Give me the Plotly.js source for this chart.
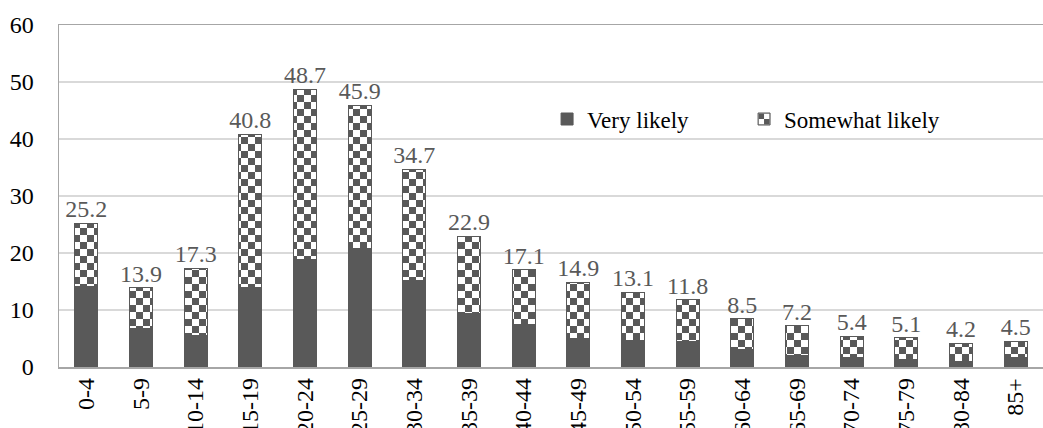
<!DOCTYPE html>
<html>
<head>
<meta charset="utf-8">
<script src="https://cdn.plot.ly/plotly-3.0.1.min.js"></script>
<style>
  html, body { margin: 0; padding: 0; background: #fff; }
  #chart { width: 1043px; height: 428px; }
</style>
</head>
<body>
<div id="chart"></div>
<script>
// Age groups on the x axis
const ageGroups = ['0-4', '5-9', '10-14', '15-19', '20-24', '25-29', '30-34', '35-39', '40-44',
                   '45-49', '50-54', '55-59', '60-64', '65-69', '70-74', '75-79', '80-84', '85+'];

// Share answering "Very likely" (lower, solid segment)
const veryLikely = [14.1, 6.7, 5.5, 14.0, 18.9, 20.8, 15.1, 9.4, 7.4,
                    5.0, 4.6, 4.4, 3.1, 2.1, 1.6, 1.3, 1.0, 1.6];

// Share answering "Somewhat likely" (upper, checkered segment)
const somewhatLikely = [11.1, 7.2, 11.8, 26.8, 29.8, 25.1, 19.6, 13.5, 9.7,
                        9.9, 8.5, 7.4, 5.4, 5.1, 3.8, 3.8, 3.2, 2.9];

// Combined total printed above each stack
const totals = [25.2, 13.9, 17.3, 40.8, 48.7, 45.9, 34.7, 22.9, 17.1,
                14.9, 13.1, 11.8, 8.5, 7.2, 5.4, 5.1, 4.2, 4.5];

const yTicks = [0, 10, 20, 30, 40, 50, 60];

const DARK = '#595959';
const FONT = 'Liberation Serif';

const traces = [
  {
    type: 'bar', name: 'Very likely', x: ageGroups, y: veryLikely,
    marker: { color: DARK, line: { color: DARK, width: 1 } },
    width: 0.42, hoverinfo: 'x+y'
  },
  {
    type: 'bar', name: 'Somewhat likely', x: ageGroups, y: somewhatLikely,
    marker: {
      color: '#ffffff',
      line: { color: DARK, width: 1 },
      pattern: { shape: '+', fgcolor: DARK, bgcolor: '#ffffff', size: 14, solidity: 0.5 }
    },
    width: 0.42, hoverinfo: 'x+y'
  },
  {
    type: 'scatter', mode: 'text', x: ageGroups, y: totals,
    text: totals.map(v => v.toFixed(1)),
    textposition: 'top center',
    textfont: { family: FONT, size: 24, color: DARK },
    showlegend: false, hoverinfo: 'skip', cliponaxis: false
  }
];

const layout = {
  width: 1043, height: 428,
  margin: { l: 59, r: 0, t: 25, b: 61, autoexpand: false },
  paper_bgcolor: '#ffffff', plot_bgcolor: '#ffffff',
  font: { family: FONT, size: 24, color: '#000' },
  barmode: 'stack',
  showlegend: true,
  legend: {
    orientation: 'h', x: 0.496, xanchor: 'left', y: 0.725, yanchor: 'middle',
    font: { family: FONT, size: 23, color: '#000' },
    bgcolor: 'rgba(0,0,0,0)', entrywidth: 152, traceorder: 'normal'
  },
  xaxis: {
    type: 'category', range: [-0.5, 17.5], fixedrange: true,
    tickangle: -90, automargin: false,
    showline: true, linecolor: '#a6a6a6', linewidth: 1.5, mirror: true,
    showgrid: false, ticks: '',
    tickfont: { family: FONT, size: 24, color: '#000' }
  },
  yaxis: {
    range: [0, 60], tickvals: yTicks, fixedrange: true, automargin: false,
    showline: true, linecolor: '#a6a6a6', linewidth: 1.5,
    gridcolor: '#d9d9d9', gridwidth: 1.5, zeroline: false, ticks: '',
    ticklabelstandoff: 19,
    tickfont: { family: FONT, size: 24, color: '#000' }
  }
};

// Replace the built-in "+" pattern tiles with a checkerboard
function checkerTiles(gd) {
  const NS = 'http://www.w3.org/2000/svg';
  const s = 14, h = 7;
  gd.querySelectorAll('pattern').forEach(p => {
    p.setAttribute('width', s);
    p.setAttribute('height', s);
    p.setAttribute('patternUnits', 'userSpaceOnUse');
    while (p.firstChild) p.removeChild(p.firstChild);
    const add = (x, y, w, hh, c) => {
      const r = document.createElementNS(NS, 'rect');
      r.setAttribute('x', x); r.setAttribute('y', y);
      r.setAttribute('width', w); r.setAttribute('height', hh);
      r.setAttribute('fill', c);
      p.appendChild(r);
    };
    add(0, 0, s, s, '#ffffff');
    add(0, 0, h, h, DARK);
    add(h, h, h, h, DARK);
  });
}

const gd = document.getElementById('chart');
Plotly.newPlot(gd, traces, layout, { staticPlot: true }).then(() => {
  checkerTiles(gd);
  gd.on('plotly_afterplot', () => checkerTiles(gd));
});
</script>
</body>
</html>
